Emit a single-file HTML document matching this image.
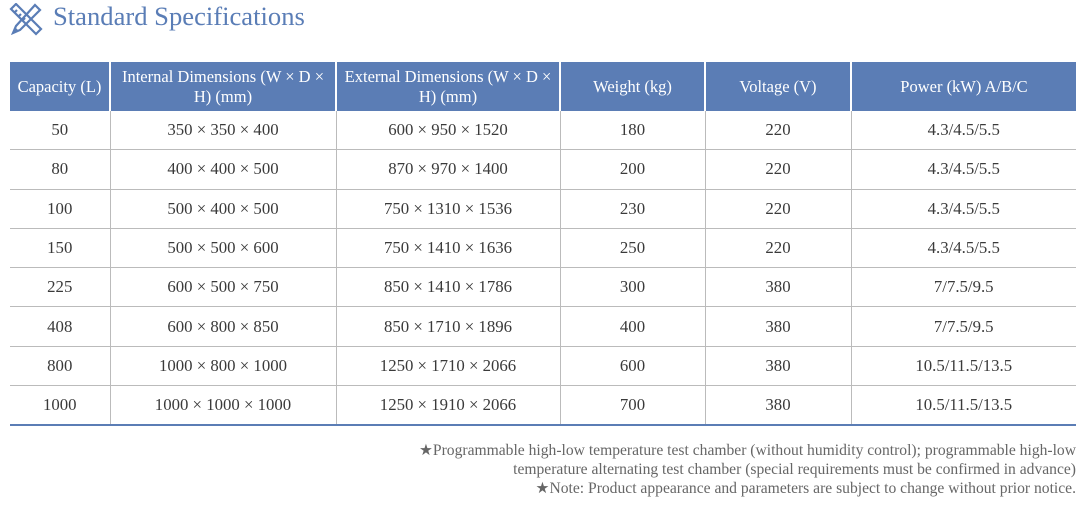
<!DOCTYPE html>
<html><head><style>
body{margin:0;width:1086px;height:525px;background:#fff;font-family:"Liberation Serif",serif;position:relative;overflow:hidden}
.t{position:absolute;left:53px;top:1px;font-size:26.6px;color:#5a7db6}
table{position:absolute;left:10px;top:62px;width:1066px;border-collapse:collapse;table-layout:fixed}
th{background:#5b7db5;color:#fff;font-weight:normal;font-size:16.5px;height:49px;padding:0 6px;line-height:20px;border-left:2px solid #fff}
th:first-child{border-left:none;padding:0 2px}
td{height:38.3px;text-align:center;font-size:16.8px;color:#3a3a3a;border-left:1px solid #bbb;border-bottom:1px solid #bbb;padding:0}
td:first-child{border-left:none}
tr:last-child td{border-bottom:2px solid #5b7db5}
.n{position:absolute;right:10px;top:441px;text-align:right;font-size:15.6px;color:#666;line-height:19px;white-space:nowrap}
</style></head><body>
<svg style="position:absolute;left:8px;top:3px" width="36" height="34" viewBox="0 0 36 34" fill="none" stroke="#5a7db6" stroke-width="2.2">
<path d="M3 6 L8 1 L33 26 L28 31 Z"/><path d="M6 10l3-3M10 14l3-3M14 18l3-3"/>
<path d="M27 2 L32 7 L12 27 L5 30 L8 23 Z"/><path d="M9 26l-3 3"/>
</svg>
<div class="t">Standard Specifications</div>
<table>
<colgroup><col style="width:100px"><col style="width:226px"><col style="width:224px"><col style="width:145px"><col style="width:146px"><col style="width:225px"></colgroup>
<tr><th>Capacity (L)</th><th>Internal Dimensions (W × D × H) (mm)</th><th>External Dimensions (W × D × H) (mm)</th><th>Weight (kg)</th><th>Voltage (V)</th><th>Power (kW) A/B/C</th></tr>
<tr><td>50</td><td>350 × 350 × 400</td><td>600 × 950 × 1520</td><td>180</td><td>220</td><td>4.3/4.5/5.5</td></tr>
<tr><td>80</td><td>400 × 400 × 500</td><td>870 × 970 × 1400</td><td>200</td><td>220</td><td>4.3/4.5/5.5</td></tr>
<tr><td>100</td><td>500 × 400 × 500</td><td>750 × 1310 × 1536</td><td>230</td><td>220</td><td>4.3/4.5/5.5</td></tr>
<tr><td>150</td><td>500 × 500 × 600</td><td>750 × 1410 × 1636</td><td>250</td><td>220</td><td>4.3/4.5/5.5</td></tr>
<tr><td>225</td><td>600 × 500 × 750</td><td>850 × 1410 × 1786</td><td>300</td><td>380</td><td>7/7.5/9.5</td></tr>
<tr><td>408</td><td>600 × 800 × 850</td><td>850 × 1710 × 1896</td><td>400</td><td>380</td><td>7/7.5/9.5</td></tr>
<tr><td>800</td><td>1000 × 800 × 1000</td><td>1250 × 1710 × 2066</td><td>600</td><td>380</td><td>10.5/11.5/13.5</td></tr>
<tr><td>1000</td><td>1000 × 1000 × 1000</td><td>1250 × 1910 × 2066</td><td>700</td><td>380</td><td>10.5/11.5/13.5</td></tr>
</table>
<div class="n">★Programmable high-low temperature test chamber (without humidity control); programmable high-low<br>temperature alternating test chamber (special requirements must be confirmed in advance)<br>★Note: Product appearance and parameters are subject to change without prior notice.</div>
</body></html>
